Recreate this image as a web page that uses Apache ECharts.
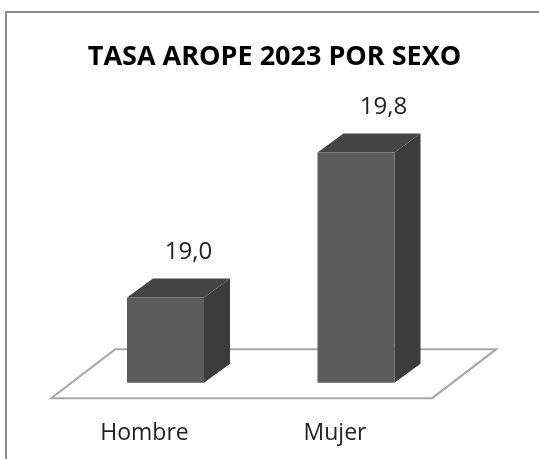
<!DOCTYPE html>
<html>
<head>
<meta charset="utf-8">
<style>
  html, body { margin: 0; padding: 0; background: #fff; }
  #chart { width: 539px; height: 459px; }
</style>
<script src="https://cdn.jsdelivr.net/npm/echarts@6/dist/echarts.min.js"></script>
</head>
<body>
<div id="chart"></div>
<script>
const categories = ['Hombre', 'Mujer']
const values = [19.0, 19.8]
const valueLabels = ['19,0', '19,8']
const barBase = 18.53

const fontName = '"Open Sans", sans-serif'
const depthX = 26
const depthY = 19
const barWidth = 77
const labelShift = [23, 27.5]

const mChart = echarts.init(document.getElementById('chart'))

function renderBar(params, api) {
    const center = api.coord([api.value(0), api.value(1)])
    const base = api.coord([api.value(0), barBase])
    const x0 = center[0] - barWidth / 2
    const x1 = center[0] + barWidth / 2
    const top = center[1]
    const bottom = base[1]
    return {
        type: 'group',
        children: [
            {
                type: 'polygon',
                shape: { points: [[x0, top], [x1, top], [x1 + depthX, top - depthY], [x0 + depthX, top - depthY]] },
                style: { fill: '#454545' }
            },
            {
                type: 'polygon',
                shape: { points: [[x1, top], [x1 + depthX, top - depthY], [x1 + depthX, bottom - depthY], [x1, bottom]] },
                style: { fill: '#3c3c3c' }
            },
            {
                type: 'rect',
                shape: { x: x0, y: top, width: barWidth, height: bottom - top },
                style: { fill: '#5c5c5c' }
            },
            {
                type: 'text',
                style: {
                    x: center[0] + labelShift[params.dataIndex],
                    y: top - 45,
                    text: valueLabels[params.dataIndex],
                    fill: '#222',
                    font: '24px ' + fontName,
                    align: 'center',
                    verticalAlign: 'middle'
                }
            }
        ]
    }
}

// suelo del grafico, sale de los bordes del grid
function renderFloor(params, api) {
    const size = api.size([1, 0])[0]
    const left = api.coord([0, barBase])[0] - size / 2
    const right = left + size * categories.length
    const y = api.coord([0, barBase])[1]
    return {
        type: 'polygon',
        silent: true,
        shape: {
            points: [
                [left - 19, y + 15.5],
                [right - 19, y + 15.5],
                [right + 45, y - 33.5],
                [left + 45, y - 33.5]
            ]
        },
        style: { fill: '#fff', stroke: '#a6a6a6', lineWidth: 2 }
    }
}

const option = {
    animation: false,
    backgroundColor: '#fff',
    title: {
        text: 'TASA AROPE 2023 POR SEXO',
        left: 269.5,
        textAlign: 'center',
        top: 39,
        textStyle: { color: '#000', fontFamily: fontName, fontSize: 27, fontWeight: 'bold' }
    },
    grid: { left: 70.25, width: 381, top: 116.2, height: 271.9 },
    xAxis: {
        type: 'category',
        data: categories,
        axisLine: { show: false },
        axisTick: { show: false },
        axisLabel: {
            color: '#222',
            fontFamily: fontName,
            fontSize: 23,
            margin: 34,
            padding: [0, 42, 0, 0]
        }
    },
    yAxis: {
        type: 'value',
        min: 18.5,
        max: 20,
        show: false
    },
    series: [
        {
            type: 'custom',
            renderItem: renderFloor,
            data: [[0, barBase]],
            encode: { x: 0, y: 1 },
            z: 1
        },
        {
            type: 'custom',
            renderItem: renderBar,
            data: values.map((v, i) => [i, v]),
            encode: { x: 0, y: 1 },
            z: 2
        }
    ],
    // marco: solo arriba e izquierda, el resto queda cortado
    graphic: [{
        type: 'polyline',
        silent: true,
        z: 10,
        shape: { points: [[6, 459], [6, 12], [539, 12]] },
        style: { fill: 'none', stroke: '#8c8c8c', lineWidth: 2 }
    }]
}
mChart.setOption(option)
window.addEventListener('resize', function() {
    mChart.resize()
})
</script>
</body>
</html>
